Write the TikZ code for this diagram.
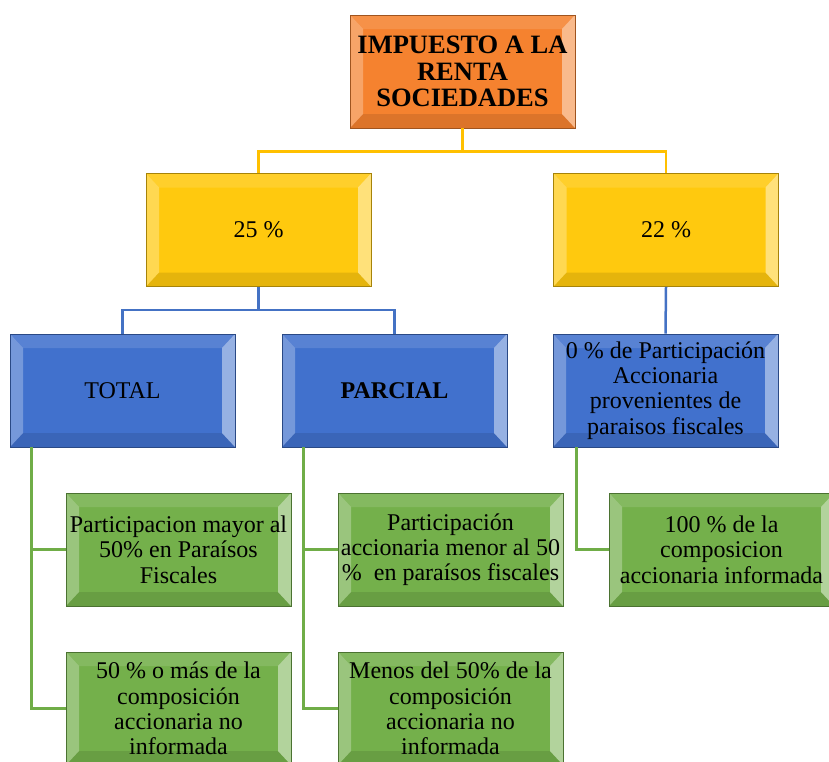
\documentclass[tikz,border=0pt]{standalone}
\usepackage{fontspec}
\setmainfont{Liberation Serif}
\usetikzlibrary{calc}
\definecolor{corange}{HTML}{F5822F}
\definecolor{cyellow}{HTML}{FFC90E}
\definecolor{cblue}{HTML}{4171CD}
\definecolor{cgreen}{HTML}{74B04B}
\definecolor{lyellow}{HTML}{FFC000}
\definecolor{lblue}{HTML}{4472C4}
\definecolor{lgreen}{HTML}{70AD47}
\tikzset{
  bbox/.style={draw=#1!65!black, line width=0.6pt, fill=#1,
    minimum width=225pt, minimum height=113pt, inner sep=0pt, align=center,
    font=\fontsize{24}{25.3}\selectfont,
    path picture={
      \coordinate (ppnw) at (path picture bounding box.north west);
      \coordinate (ppne) at (path picture bounding box.north east);
      \coordinate (ppsw) at (path picture bounding box.south west);
      \coordinate (ppse) at (path picture bounding box.south east);
      \fill[white,opacity=.12] (ppnw) -- (ppne) -- ([shift={(-13pt,-14pt)}]ppne) -- ([shift={(13pt,-14pt)}]ppnw) -- cycle;
      \fill[black,opacity=.10] (ppsw) -- (ppse) -- ([shift={(-13pt,14pt)}]ppse) -- ([shift={(13pt,14pt)}]ppsw) -- cycle;
      \fill[white,opacity=.28] (ppnw) -- (ppsw) -- ([shift={(13pt,14pt)}]ppsw) -- ([shift={(13pt,-14pt)}]ppnw) -- cycle;
      \fill[white,opacity=.45] (ppne) -- (ppse) -- ([shift={(-13pt,14pt)}]ppse) -- ([shift={(-13pt,-14pt)}]ppne) -- cycle;
    }},
  conn/.style={line width=2.5pt, draw=#1}
}
\begin{document}
\begin{tikzpicture}[x=1pt,y=-1pt]
\useasboundingbox (0,0) rectangle (829,761);
\clip (0,0) rectangle (829,761);
% nodes
\node[bbox=corange, font=\fontsize{26.5}{26.5}\selectfont\bfseries] (top) at (462.5,71.5) {IMPUESTO A LA\\RENTA\\SOCIEDADES};
\node[bbox=cyellow] (y25) at (258.5,230) {25 \%};
\node[bbox=cyellow] (y22) at (666,230) {22 \%};
\node[bbox=cblue] (total) at (122.5,390.5) {TOTAL};
\node[bbox=cblue, font=\fontsize{24}{25.3}\selectfont\bfseries] (parcial) at (394.5,390.5) {PARCIAL};
\node[bbox=cblue] (cero) at (665.5,390.5) {0 \% de Participación\\Accionaria\\provenientes de\\paraisos fiscales};
\node[bbox=cgreen] (g1) at (178.5,549.5) {Participacion mayor al\\50\% en Paraísos\\Fiscales};
\node[bbox=cgreen] (g2) at (178.5,708.5) {50 \% o más de la\\composición\\accionaria no\\informada};
\node[bbox=cgreen] (g3) at (450.5,549.5) {Participación\\accionaria menor al 50\\\%\ \ en paraísos fiscales};
\node[bbox=cgreen] (g4) at (450.5,708.5) {Menos del 50\% de la\\composición\\accionaria no\\informada};
\node[bbox=cgreen] (g5) at (721.5,549.5) {100 \% de la\\composicion\\accionaria informada};
% connectors
\draw[conn=lyellow] (top.south) -- ++(0,23) -| (y25.north);
\draw[conn=lyellow] (top.south) -- ++(0,23) -| (y22.north);
\draw[conn=lblue] (y25.south) -- ++(0,23) -| (total.north);
\draw[conn=lblue] (y25.south) -- ++(0,23) -| (parcial.north);
\draw[conn=lblue] (y22.south) -- (cero.north);
\draw[conn=lgreen] ([xshift=22pt]total.south west) |- (g1.west);
\draw[conn=lgreen] ([xshift=22pt]total.south west) |- (g2.west);
\draw[conn=lgreen] ([xshift=22pt]parcial.south west) |- (g3.west);
\draw[conn=lgreen] ([xshift=22pt]parcial.south west) |- (g4.west);
\draw[conn=lgreen] ([xshift=24pt]cero.south west) |- (g5.west);
\end{tikzpicture}
\end{document}
